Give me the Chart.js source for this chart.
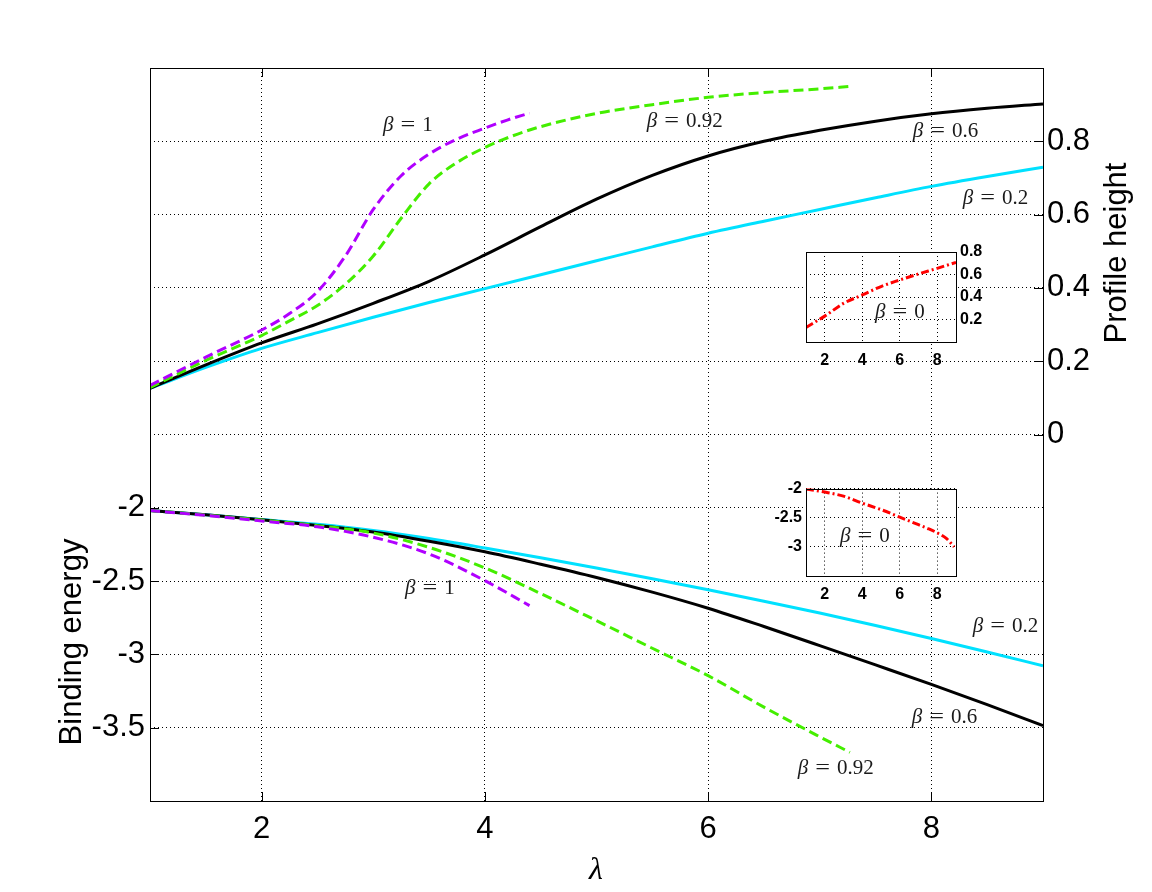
<!DOCTYPE html>
<html>
<head>
<meta charset="utf-8">
<title>Profile height and binding energy vs lambda</title>
<script src="https://cdn.jsdelivr.net/npm/chart.js@4.4.1/dist/chart.umd.min.js"></script>
<style>
  html, body { margin: 0; padding: 0; background: #fff; }
  #wrap { position: relative; width: 1152px; height: 892px; overflow: hidden; }
  #wrap canvas { position: absolute; }
  #main { left: 0; top: 0; }
  #insetTop { left: 760px; top: 236px; }
  #insetBot { left: 740px; top: 475px; }
</style>
</head>
<body>
<div id="wrap">
  <canvas id="main" width="1152" height="892"></canvas>
  <canvas id="insetTop" width="250" height="145"></canvas>
  <canvas id="insetBot" width="230" height="140"></canvas>
</div>
<script>
// ---- values ----
const lambdaFull = [1, 1.5, 2, 2.5, 3, 3.5, 4, 4.5, 5, 5.5, 6, 6.5, 7, 7.5, 8, 8.5, 9];

// profile height (right axis)
const heightB02 = [0.126, 0.183, 0.235, 0.278, 0.32, 0.36, 0.398, 0.436, 0.474, 0.512, 0.549, 0.582, 0.614, 0.646, 0.677, 0.704, 0.729];
const heightB06 = [0.126, 0.19, 0.25, 0.302, 0.358, 0.418, 0.49, 0.567, 0.642, 0.707, 0.76, 0.8, 0.83, 0.855, 0.875, 0.89, 0.902];
const lambdaB092Top = [1, 1.5, 2, 2.25, 2.5, 2.75, 3, 3.25, 3.5, 3.75, 4, 4.25, 4.5, 5, 5.5, 6, 6.5, 7, 7.28];
const heightB092 = [0.128, 0.202, 0.27, 0.31, 0.352, 0.41, 0.487, 0.59, 0.684, 0.742, 0.783, 0.815, 0.84, 0.876, 0.9, 0.92, 0.933, 0.943, 0.95];
const lambdaB1Top = [1, 1.5, 2, 2.25, 2.5, 2.75, 3, 3.25, 3.5, 3.75, 4, 4.2, 4.4];
const heightB1 = [0.134, 0.211, 0.285, 0.33, 0.39, 0.487, 0.614, 0.706, 0.765, 0.806, 0.836, 0.858, 0.877];

// binding energy (left axis)
const energyB02 = [-2.019, -2.048, -2.08, -2.113, -2.155, -2.21, -2.274, -2.341, -2.411, -2.484, -2.559, -2.637, -2.718, -2.803, -2.892, -2.984, -3.077];
const energyB06 = [-2.019, -2.048, -2.081, -2.12, -2.165, -2.228, -2.3, -2.385, -2.475, -2.575, -2.685, -2.81, -2.94, -3.072, -3.205, -3.342, -3.486];
const lambdaB092Bot = [1, 1.5, 2, 2.5, 3, 3.5, 4, 4.5, 5, 5.5, 6, 6.5, 7, 7.27];
const energyB092 = [-2.019, -2.05, -2.084, -2.122, -2.172, -2.27, -2.41, -2.585, -2.77, -2.958, -3.145, -3.36, -3.562, -3.668];
const lambdaB1Bot = [1, 1.5, 2, 2.5, 3, 3.5, 4, 4.4];
const energyB1 = [-2.019, -2.052, -2.09, -2.13, -2.201, -2.315, -2.497, -2.667];

// insets, beta = 0
const lambdaInsetTop = [1, 2, 3, 4, 5, 6, 7, 8, 9];
const heightB0 = [0.13, 0.23, 0.343, 0.418, 0.493, 0.551, 0.605, 0.655, 0.708];
const lambdaInsetBot = [1, 2, 3, 4, 5, 6, 7, 7.5, 8, 8.5, 8.9];
const energyB0 = [-2.006, -2.06, -2.13, -2.25, -2.36, -2.49, -2.62, -2.685, -2.76, -2.86, -3.0];

// ticks
const lambdaTicks = [2, 4, 6, 8];
const energyGrid = [-3.5, -3, -2.5, -2, -1.5, -1, -0.5, 0, 0.5];
const energyTicks = [-3.5, -3, -2.5, -2];
const heightTicks = [0, 0.2, 0.4, 0.6, 0.8];
const insetHeightTicks = [0.2, 0.4, 0.6, 0.8];
const insetEnergyTicks = [-3, -2.5, -2];

// beta annotations: [beta, lambda, value] (text anchored at left/baseline)
const notesHeight = [['1', 3.087, 0.827], ['0.92', 5.451, 0.838], ['0.6', 7.833, 0.813], ['0.2', 8.281, 0.629]];
const notesEnergy = [['1', 3.284, -2.587], ['0.2', 8.371, -2.845], ['0.6', 7.824, -3.467], ['0.92', 6.803, -3.815]];
const noteInsetTop = ['0', 4.68, 0.216];
const noteInsetBot = ['0', 2.81, -2.91];

const CYAN = '#00e1ff', GREEN = '#44ee00', PURPLE = '#b000ff', RED = '#ff0000';

function series(xs, ys, color, axis, dash) {
    return {
        data: xs.map((x, i) => ({ x: x, y: ys[i] })),
        yAxisID: axis,
        borderColor: color,
        borderWidth: 3,
        borderDash: dash,
        borderCapStyle: 'butt',
        pointRadius: 0,
        fill: false,
        cubicInterpolationMode: 'monotone'
    };
}

function setTicks(values) {
    return (scale) => { scale.ticks = values.map(v => ({ value: v })); };
}

function drawBeta(ctx, txt, x, y) {
    ctx.save();
    ctx.fillStyle = '#1a1a1a';
    ctx.textAlign = 'left';
    ctx.textBaseline = 'alphabetic';
    ctx.font = 'italic 21px "Liberation Serif"';
    ctx.fillText('β', x, y);
    let cx = x + ctx.measureText('β').width + 7;
    ctx.font = '21px "Liberation Serif"';
    ctx.save();
    ctx.translate(cx, y);
    ctx.scale(1.25, 1);
    ctx.fillText('=', 0, 0);
    ctx.restore();
    cx += ctx.measureText('=').width * 1.25 + 7;
    ctx.fillText(txt, cx, y);
    ctx.restore();
}

// white plot background, box frame
const boxPlugin = {
    id: 'box',
    beforeDraw(chart) {
        const a = chart.chartArea, ctx = chart.ctx;
        ctx.save();
        ctx.fillStyle = '#fff';
        ctx.fillRect(a.left, a.top, a.right - a.left, a.bottom - a.top);
        ctx.restore();
    },
    afterDraw(chart) {
        const a = chart.chartArea, ctx = chart.ctx;
        ctx.save();
        ctx.strokeStyle = '#000';
        ctx.lineWidth = 1;
        ctx.strokeRect(Math.round(a.left) + 0.5, Math.round(a.top) + 0.5,
            Math.round(a.right - a.left), Math.round(a.bottom - a.top));
        ctx.restore();
    }
};

// inward ticks, titles and beta labels on the main axes
const mainDecor = {
    id: 'mainDecor',
    afterDatasetsDraw(chart) {
        const ctx = chart.ctx, s = chart.scales;
        notesHeight.forEach(n => drawBeta(ctx, n[0], s.x.getPixelForValue(n[1]), s.yR.getPixelForValue(n[2])));
        notesEnergy.forEach(n => drawBeta(ctx, n[0], s.x.getPixelForValue(n[1]), s.yL.getPixelForValue(n[2])));
    },
    afterDraw(chart) {
        const ctx = chart.ctx, s = chart.scales, a = chart.chartArea;
        const len = 9;
        ctx.save();
        ctx.strokeStyle = '#000';
        ctx.lineWidth = 1;
        ctx.beginPath();
        lambdaTicks.forEach(v => {
            const px = Math.round(s.x.getPixelForValue(v)) + 0.5;
            ctx.moveTo(px, a.bottom); ctx.lineTo(px, a.bottom - len);
            ctx.moveTo(px, a.top); ctx.lineTo(px, a.top + len);
        });
        energyTicks.forEach(v => {
            const py = Math.round(s.yL.getPixelForValue(v)) + 0.5;
            ctx.moveTo(a.left, py); ctx.lineTo(a.left + len, py);
        });
        heightTicks.forEach(v => {
            const py = Math.round(s.yR.getPixelForValue(v)) + 0.5;
            ctx.moveTo(a.right, py); ctx.lineTo(a.right - len, py);
        });
        ctx.stroke();

        ctx.fillStyle = '#000';
        ctx.font = '31px "Liberation Sans"';
        ctx.textAlign = 'center';
        ctx.textBaseline = 'middle';
        ctx.save();
        ctx.translate(72, 642);
        ctx.rotate(-Math.PI / 2);
        ctx.fillText('Binding energy', 0, 0);
        ctx.restore();
        ctx.save();
        ctx.translate(1117, 253);
        ctx.rotate(-Math.PI / 2);
        ctx.fillText('Profile height', 0, 0);
        ctx.restore();
        ctx.font = 'italic 32px "Liberation Serif"';
        ctx.textBaseline = 'alphabetic';
        ctx.fillText('λ', 596, 879);
        ctx.restore();
    }
};

const dotted = { display: false, dash: [1, 3] };
const bigFont = { family: 'Liberation Sans', size: 31 };
const smallFont = { family: 'Liberation Sans', size: 16, weight: 'bold' };

new Chart(document.getElementById('main'), {
    type: 'line',
    data: {
        datasets: [
            series(lambdaB1Top, heightB1, PURPLE, 'yR', [10, 5]),
            series(lambdaB092Top, heightB092, GREEN, 'yR', [10, 5]),
            series(lambdaFull, heightB06, '#000', 'yR', []),
            series(lambdaFull, heightB02, CYAN, 'yR', []),
            series(lambdaB1Bot, energyB1, PURPLE, 'yL', [10, 5]),
            series(lambdaB092Bot, energyB092, GREEN, 'yL', [10, 5]),
            series(lambdaFull, energyB06, '#000', 'yL', []),
            series(lambdaFull, energyB02, CYAN, 'yL', [])
        ]
    },
    options: {
        responsive: false,
        animation: false,
        devicePixelRatio: 1,
        layout: { padding: { top: 68, left: 0, right: 0, bottom: 0 } },
        plugins: { legend: { display: false }, tooltip: { enabled: false } },
        scales: {
            x: {
                type: 'linear', min: 1, max: 9,
                afterBuildTicks: setTicks(lambdaTicks),
                afterFit: (sc) => { sc.height = 91; },
                grid: { color: '#000', lineWidth: 1, drawTicks: false },
                border: dotted,
                ticks: { color: '#000', font: bigFont, padding: 10, maxRotation: 0 }
            },
            yL: {
                type: 'linear', position: 'left', min: -4, max: 1,
                afterBuildTicks: setTicks(energyGrid),
                afterFit: (sc) => { sc.width = 150; },
                grid: { color: '#000', lineWidth: 1, drawTicks: false },
                border: dotted,
                ticks: {
                    color: '#000', font: bigFont, padding: 5,
                    callback: (v) => energyTicks.includes(v) ? String(v) : ''
                }
            },
            yR: {
                type: 'linear', position: 'right', min: -1, max: 1,
                afterBuildTicks: setTicks(heightTicks),
                afterFit: (sc) => { sc.width = 109; },
                grid: { display: false, drawTicks: false },
                border: { display: false },
                ticks: { color: '#000', font: bigFont, padding: 4, callback: (v) => String(v) }
            }
        }
    },
    plugins: [boxPlugin, mainDecor]
});

// inset: profile height for beta = 0
new Chart(document.getElementById('insetTop'), {
    type: 'line',
    data: { datasets: [series(lambdaInsetTop, heightB0, RED, 'y', [8, 3, 2, 3])] },
    options: {
        responsive: false,
        animation: false,
        devicePixelRatio: 1,
        layout: { padding: { top: 16, left: 46, right: 0, bottom: 0 } },
        plugins: { legend: { display: false }, tooltip: { enabled: false } },
        scales: {
            x: {
                type: 'linear', min: 1, max: 9,
                afterBuildTicks: setTicks(lambdaTicks),
                afterFit: (sc) => { sc.height = 39; },
                grid: { color: '#000', lineWidth: 1, drawTicks: false },
                border: dotted,
                ticks: { color: '#000', font: smallFont, padding: 9, maxRotation: 0 }
            },
            y: {
                type: 'linear', position: 'right', min: 0, max: 0.8,
                afterBuildTicks: setTicks(insetHeightTicks),
                afterFit: (sc) => { sc.width = 54; },
                grid: { color: '#000', lineWidth: 1, drawTicks: false },
                border: dotted,
                ticks: { color: '#000', font: smallFont, padding: 4, callback: (v) => String(v) }
            }
        }
    },
    plugins: [boxPlugin, {
        id: 'noteTop',
        afterDatasetsDraw(chart) {
            const s = chart.scales;
            drawBeta(chart.ctx, noteInsetTop[0], s.x.getPixelForValue(noteInsetTop[1]), s.y.getPixelForValue(noteInsetTop[2]));
        }
    }]
});

// inset: binding energy for beta = 0
new Chart(document.getElementById('insetBot'), {
    type: 'line',
    data: { datasets: [series(lambdaInsetBot, energyB0, RED, 'y', [8, 3, 2, 3])] },
    options: {
        responsive: false,
        animation: false,
        devicePixelRatio: 1,
        layout: { padding: { top: 12, left: 0, right: 14, bottom: 0 } },
        plugins: { legend: { display: false }, tooltip: { enabled: false } },
        scales: {
            x: {
                type: 'linear', min: 1, max: 9,
                afterBuildTicks: setTicks(lambdaTicks),
                afterFit: (sc) => { sc.height = 39; },
                grid: { color: '#000', lineWidth: 1, drawTicks: false },
                border: dotted,
                ticks: { color: '#000', font: smallFont, padding: 9, maxRotation: 0 }
            },
            y: {
                type: 'linear', position: 'left', min: -3.5, max: -2,
                afterBuildTicks: setTicks(insetEnergyTicks),
                afterFit: (sc) => { sc.width = 66; },
                grid: { color: '#000', lineWidth: 1, drawTicks: false },
                border: dotted,
                ticks: { color: '#000', font: smallFont, padding: 4, callback: (v) => String(v) }
            }
        }
    },
    plugins: [boxPlugin, {
        id: 'noteBot',
        afterDatasetsDraw(chart) {
            const s = chart.scales;
            drawBeta(chart.ctx, noteInsetBot[0], s.x.getPixelForValue(noteInsetBot[1]), s.y.getPixelForValue(noteInsetBot[2]));
        }
    }]
});
</script>
</body>
</html>
